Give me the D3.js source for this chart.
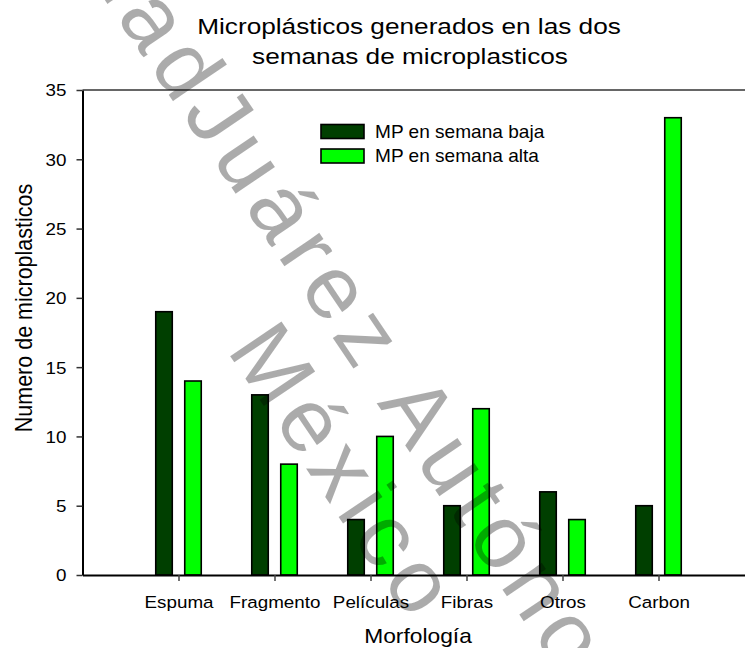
<!DOCTYPE html>
<html>
<head>
<meta charset="utf-8">
<script src="https://cdn.jsdelivr.net/npm/d3@7"></script>
<style>
  body { margin: 0; background: #fff; }
  text { font-family: "Liberation Sans", Arial, sans-serif; fill: #000; }
</style>
</head>
<body>
<div id="chart"></div>
<script>
// Data
const categories = ['Espuma', 'Fragmento', 'Películas', 'Fibras', 'Otros', 'Carbon'];
const semanaBaja = [19, 13, 4, 5, 6, 5];
const semanaAlta = [14, 8, 10, 12, 4, 33];
const seriesNames = ['MP en semana baja', 'MP en semana alta'];
const seriesColors = ['#003f00', '#00ff00'];
const yTicks = [0, 5, 10, 15, 20, 25, 30, 35];

const width = 745, height = 648;
const sx = 1.14; // the original picture is stretched horizontally

const svg = d3.select('#chart')
    .append('svg')
    .attr('width', width)
    .attr('height', height);

// Scales
const x = d3.scaleLinear().domain([0, 6.9]).range([82.5, 744.9]);
const y = d3.scaleLinear().domain([0, 35]).range([575, 90]);

// helper for stretched text
function label(parent, tx, ty, str, size, anchor, stretch) {
    return parent.append('text')
        .attr('transform', `translate(${tx},${ty}) scale(${stretch || sx},1)`)
        .attr('text-anchor', anchor)
        .attr('font-size', size)
        .text(str);
}

// Title
label(svg, 409, 33.5, 'Microplásticos generados en las dos', 22.4, 'middle', 1.17);
label(svg, 410, 64, 'semanas de microplasticos', 22.4, 'middle', 1.17);

// Top frame line
svg.append('line')
    .attr('x1', x(0)).attr('x2', width)
    .attr('y1', y(35)).attr('y2', y(35))
    .attr('stroke', '#333').attr('stroke-width', 1.5);

// Bars
const dataRows = categories.map((c, i) => ({ i: i + 1, baja: semanaBaja[i], alta: semanaAlta[i] }));
const barShift = 0.151, barW = 0.172;

const bars = svg.append('g');
bars.selectAll('.baja')
    .data(dataRows)
    .enter()
    .append('rect')
    .attr('x', d => x(d.i - barShift - barW / 2))
    .attr('width', x(barW) - x(0))
    .attr('y', d => y(d.baja))
    .attr('height', d => y(0) - y(d.baja))
    .attr('fill', seriesColors[0])
    .attr('stroke', '#000').attr('stroke-width', 1.6);

bars.selectAll('.alta')
    .data(dataRows)
    .enter()
    .append('rect')
    .attr('x', d => x(d.i + barShift - barW / 2))
    .attr('width', x(barW) - x(0))
    .attr('y', d => y(d.alta))
    .attr('height', d => y(0) - y(d.alta))
    .attr('fill', seriesColors[1])
    .attr('stroke', '#000').attr('stroke-width', 1.6);

// Y axis
const yAxis = svg.append('g')
    .attr('transform', `translate(${x(0)},0)`)
    .call(d3.axisLeft(y).tickValues(yTicks).tickSize(6).tickSizeOuter(0));
yAxis.select('.domain').attr('stroke', '#000').attr('stroke-width', 2);
yAxis.selectAll('.tick line').attr('stroke', '#333').attr('stroke-width', 1.5);
yAxis.selectAll('.tick text')
    .attr('x', 0)
    .attr('dy', '0.36em')
    .attr('font-size', 16.5)
    .attr('font-family', '"Liberation Sans", Arial, sans-serif')
    .attr('transform', `translate(-16,0) scale(${sx},1)`);

// X axis
const xAxis = svg.append('g')
    .attr('transform', `translate(0,${y(0)})`)
    .call(d3.axisBottom(x)
        .tickValues(d3.range(1, categories.length + 1))
        .tickFormat(i => categories[i - 1])
        .tickSize(6).tickSizeOuter(0));
xAxis.select('.domain').attr('stroke', '#000').attr('stroke-width', 2);
xAxis.selectAll('.tick line').attr('stroke', '#444').attr('stroke-width', 1.5);
xAxis.selectAll('.tick text')
    .attr('y', 0)
    .attr('dy', 0)
    .attr('font-size', 16.5)
    .attr('font-family', '"Liberation Sans", Arial, sans-serif')
    .attr('transform', `translate(0,33) scale(${sx},1)`);

// Axis titles
label(svg, 418, 643, 'Morfología', 20, 'middle');
svg.append('text')
    .attr('transform', `translate(32,308) scale(${sx},1) rotate(-90)`)
    .attr('text-anchor', 'middle')
    .attr('font-size', 21.5)
    .text('Numero de microplasticos');

// Legend
const legend = svg.append('g');
seriesNames.forEach((name, i) => {
    legend.append('rect')
        .attr('x', 321).attr('y', 124.5 + i * 24.5)
        .attr('width', 43).attr('height', 14)
        .attr('fill', seriesColors[i])
        .attr('stroke', '#000').attr('stroke-width', 1.6);
    legend.append('text')
        .attr('transform', `translate(375,${138 + i * 24}) scale(1.09,1)`)
        .attr('font-size', 17.5)
        .text(name);
});

// Watermark
const wmFill = 'rgba(0,0,0,0.33)';
const wm = svg.append('g')
    .style('font-family', '"Liberation Serif", "DejaVu Serif", serif')
    .attr('font-size', 90)
    .attr('letter-spacing', 8.5);
wm.append('text')
    .attr('transform', 'translate(181,113) rotate(56)')
    .attr('text-anchor', 'end')
    .style('fill', wmFill)
    .text('Universidad ');
wm.append('text')
    .attr('transform', 'translate(181,113) rotate(56)')
    .style('fill', wmFill)
    .text('Juárez Autónoma de Tabasco');
wm.append('text')
    .attr('transform', 'translate(226,350) rotate(56)')
    .style('fill', wmFill)
    .text('México');
</script>
</body>
</html>
